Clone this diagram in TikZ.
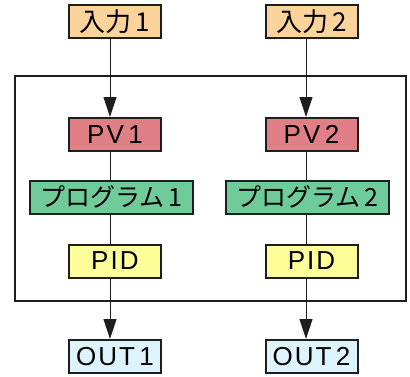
\documentclass[tikz,border=0pt]{standalone}
\usepackage{fontspec}
\setmainfont{Liberation Sans}
\newfontfamily\jpfont{Noto Sans CJK JP}
\usetikzlibrary{arrows.meta}
\definecolor{cin}{HTML}{FAD49B}
\definecolor{cpv}{HTML}{E07F86}
\definecolor{cpg}{HTML}{6FCB9A}
\definecolor{cpid}{HTML}{FFFF99}
\definecolor{cout}{HTML}{DDF4FD}
\definecolor{cline}{HTML}{1E1E1E}
\tikzset{
  boxbase/.style={draw=cline, line width=2pt, minimum height=33pt, inner sep=0pt, font=\fontsize{26}{26}\selectfont\addfontfeature{LetterSpace=8}},
  inbox/.style={boxbase, fill=cin, minimum width=92pt},
  pvbox/.style={boxbase, fill=cpv, minimum width=92pt},
  pgbox/.style={boxbase, fill=cpg, minimum width=163pt},
  pidbox/.style={boxbase, fill=cpid, minimum width=92pt},
  outbox/.style={boxbase, fill=cout, minimum width=92pt},
  link/.style={draw=cline, line width=1pt},
  arr/.style={link, -{Triangle[length=20pt, width=13pt]}},
  frame/.style={draw=cline, line width=2pt},
}
\begin{document}
\begin{tikzpicture}[x=1pt, y=-1pt]
\useasboundingbox (0,0) rectangle (410,376);
\draw[frame] (15,76) rectangle (406,301);
\coordinate (c1) at (110,0);
\coordinate (c2) at (306,0);
% column 1
\node[inbox] (in1) at (115,21.5) {\jpfont 入力\,1};
\node[pvbox] (pv1) at (115,134.5) {PV\,1};
\node[pgbox] (pg1) at (111.5,197) {\jpfont\fontsize{25}{25}\selectfont プログラム\,1};
\node[pidbox] (pid1) at (115,261) {PID};
\node[outbox] (out1) at (115,356.5) {OUT\,1};
% column 2
\node[inbox] (in2) at (311.5,21.5) {\jpfont 入力\,2};
\node[pvbox] (pv2) at (311.5,134.5) {PV\,2};
\node[pgbox] (pg2) at (307.5,197) {\jpfont\fontsize{25}{25}\selectfont プログラム\,2};
\node[pidbox] (pid2) at (311.5,261) {PID};
\node[outbox] (out2) at (311.5,356.5) {OUT\,2};
% connectors
\foreach \c/\i/\p/\g/\d/\o in {c1/in1/pv1/pg1/pid1/out1, c2/in2/pv2/pg2/pid2/out2}{
  \draw[arr] (\c |- \i.south) -- (\c |- \p.north);
  \draw[link] (\c |- \p.south) -- (\c |- \g.north);
  \draw[link] (\c |- \g.south) -- (\c |- \d.north);
  \draw[arr] (\c |- \d.south) -- (\c |- \o.north);
}
\end{tikzpicture}
\end{document}
